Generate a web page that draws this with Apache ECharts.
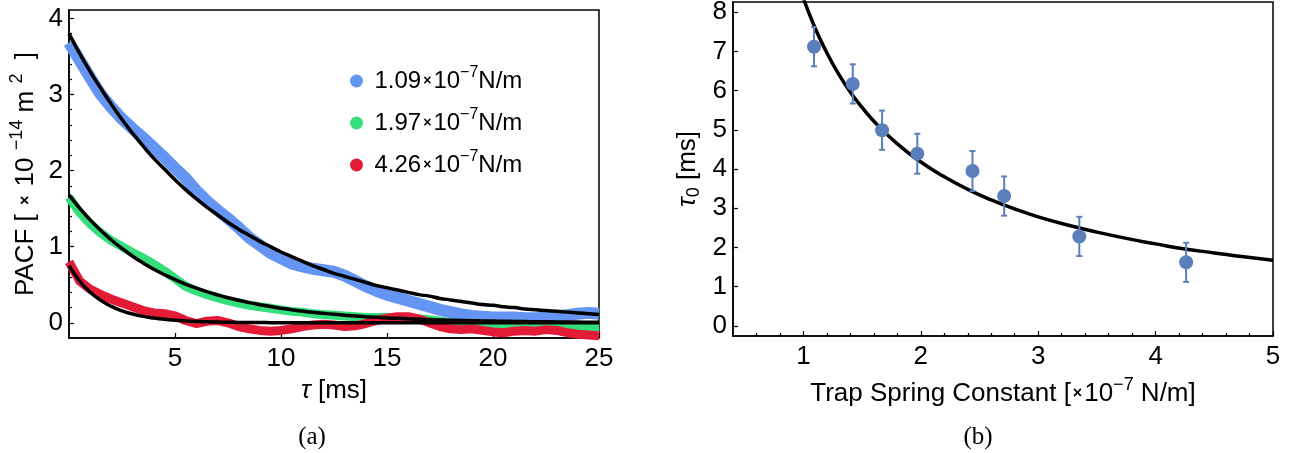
<!DOCTYPE html>
<html>
<head>
<meta charset="utf-8">
<script src="https://cdn.jsdelivr.net/npm/echarts@6/dist/echarts.min.js"></script>
<style>
  html, body { margin: 0; padding: 0; background: #fff; }
  #chart { width: 1293px; height: 453px; }
</style>
</head>
<body>
<div id="chart"></div>
<script>
// ---- (a) position autocorrelation vs lag time ----
const tau = [0,0.5,1,1.5,2,2.5,3,3.5,4,4.5,5,5.5,6,6.5,7,7.5,8,8.5,9,9.5,10,10.5,11,11.5,12,12.5,13,13.5,14,14.5,15,15.5,16,16.5,17,17.5,18,18.5,19,19.5,20,20.5,21,21.5,22,22.5,23,23.5,24,24.5,25];

const pacfBlue = [3.68,3.45,3.22,3.00,2.83,2.68,2.55,2.43,2.30,2.17,2.03,1.90,1.74,1.60,1.48,1.37,1.25,1.12,1.02,0.92,0.85,0.78,0.74,0.71,0.69,0.67,0.62,0.55,0.48,0.42,0.37,0.33,0.29,0.25,0.21,0.17,0.14,0.11,0.09,0.08,0.07,0.07,0.07,0.06,0.06,0.07,0.08,0.10,0.12,0.13,0.12];
const pacfGreen = [1.65,1.45,1.30,1.18,1.08,1.00,0.92,0.85,0.77,0.68,0.58,0.48,0.42,0.37,0.33,0.29,0.26,0.23,0.21,0.19,0.17,0.15,0.14,0.12,0.11,0.10,0.09,0.08,0.07,0.07,0.07,0.07,0.06,0.05,0.04,0.02,0.00,-0.02,-0.03,-0.04,-0.05,-0.05,-0.05,-0.06,-0.06,-0.05,-0.05,-0.06,-0.06,-0.06,-0.06];
const pacfRed = [0.80,0.55,0.44,0.37,0.31,0.26,0.21,0.16,0.13,0.12,0.09,0.03,-0.01,0.02,0.03,0.00,-0.05,-0.08,-0.10,-0.11,-0.10,-0.08,-0.05,-0.03,-0.02,-0.03,-0.05,-0.04,-0.01,0.03,0.06,0.08,0.08,0.05,0.00,-0.05,-0.08,-0.09,-0.08,-0.10,-0.12,-0.13,-0.11,-0.10,-0.11,-0.09,-0.10,-0.13,-0.15,-0.16,-0.17];

const fitBlue = [3.80,3.54,3.30,3.08,2.87,2.67,2.49,2.32,2.16,2.02,1.88,1.75,1.63,1.52,1.42,1.32,1.23,1.15,1.07,1.00,0.93,0.87,0.81,0.75,0.70,0.65,0.61,0.57,0.53,0.49,0.46,0.43,0.40,0.37,0.35,0.32,0.30,0.28,0.26,0.24,0.23,0.21,0.20,0.18,0.17,0.16,0.15,0.14,0.13,0.12,0.11];
const fitGreen = [1.680,1.507,1.352,1.213,1.088,0.976,0.875,0.785,0.704,0.632,0.567,0.508,0.456,0.409,0.367,0.329,0.295,0.265,0.238,0.213,0.191,0.171,0.154,0.138,0.124,0.111,0.100,0.089,0.080,0.072,0.064,0.058,0.052,0.047,0.042,0.037,0.034,0.030,0.027,0.024,0.022,0.020,0.018,0.016,0.014,0.013,0.011,0.010,0.009,0.008,0.007];
const fitRed = [0.750,0.549,0.401,0.294,0.215,0.157,0.115,0.084,0.062,0.045,0.033,0.024,0.018,0.013,0.010,0.007,0.005,0.004,0.003,0.002,0.001,0,0,0,0,0,0,0,0,0,0,0,0,0,0,0,0,0,0,0,0,0,0,0,0,0,0,0,0,0,0];

const trapLabels = ['1.09', '1.97', '4.26'];
const tauTicks = [5, 10, 15, 20, 25];
const pacfTicks = [0, 1, 2, 3, 4];
const pacfMinorTicks = [0.2,0.4,0.6,0.8,1.2,1.4,1.6,1.8,2.2,2.4,2.6,2.8,3.2,3.4,3.6,3.8,4.2];

// ---- (b) relaxation time vs trap stiffness ----
const springK = [1.09, 1.42, 1.67, 1.97, 2.44, 2.71, 3.35, 4.26];
const tau0 = [7.12, 6.17, 4.99, 4.39, 3.95, 3.31, 2.28, 1.62];
const tau0Err = [0.50, 0.50, 0.50, 0.51, 0.51, 0.50, 0.50, 0.50];

const fitK = [1.0,1.1,1.2,1.3,1.4,1.5,1.6,1.8,2.0,2.2,2.4,2.6,2.8,3.0,3.25,3.5,3.75,4.0,4.25,4.5,4.75,5.0];
const fitTau0 = [8.35,7.59,6.96,6.42,5.96,5.57,5.22,4.64,4.18,3.80,3.48,3.21,2.98,2.78,2.57,2.39,2.23,2.09,1.96,1.86,1.76,1.67];

const kTicks = [1, 2, 3, 4, 5];
const kMinorTicks = [0.6,0.8,1.2,1.4,1.6,1.8,2.2,2.4,2.6,2.8,3.2,3.4,3.6,3.8,4.2,4.4,4.6,4.8];
const tau0Ticks = [0, 1, 2, 3, 4, 5, 6, 7, 8];

const bandColors = ['#6495f2', '#34df7b', '#e31b37'];
const pointColor = '#5b7fba';
const FONT = '"Liberation Sans", Arial, sans-serif';

function richFor(size) {
  return {
    n: { fontSize: size, fontFamily: FONT, color: '#000' },
    x: { fontSize: Math.round(size * 0.6), fontFamily: FONT, color: '#000', fontWeight: 'bold', padding: [0, 2, 0, 2] },
    s: { fontSize: Math.round(size * 0.68), fontFamily: FONT, color: '#000', padding: [0, 0, Math.round(size * 0.68), 0] },
    d: { fontSize: Math.round(size * 0.68), fontFamily: FONT, color: '#000', padding: [Math.round(size * 0.5), 0, 0, 0] },
    i: { fontSize: size, fontFamily: FONT, color: '#000', fontStyle: 'italic' }
  };
}
const nameRich = richFor(26);
const legendRich = richFor(24);

const pairs = (xs, ys) => xs.map((x, i) => [x, ys[i]]);

const frameLine = { show: true, onZero: false, lineStyle: { color: '#000', width: 1.5 } };
const tickStyle = { color: '#000', width: 1.2 };
const labelBase = { color: '#000', fontSize: 26, fontFamily: FONT };

const chart = echarts.init(document.getElementById('chart'), null, { renderer: 'canvas' });

const bandSeries = [pacfBlue, pacfGreen, pacfRed].map((vals, i) => ({
  name: trapLabels[i],
  type: 'line',
  xAxisIndex: 0, yAxisIndex: 0,
  data: pairs(tau, vals),
  showSymbol: false,
  symbol: 'circle',
  color: bandColors[i],
  lineStyle: { color: bandColors[i], width: i === 0 ? 12 : 9, join: 'round', cap: 'butt' },
  silent: true,
  z: 2
}));

const fitSeries = [fitBlue, fitGreen, fitRed].map(vals => ({
  type: 'line',
  xAxisIndex: 0, yAxisIndex: 0,
  data: pairs(tau, vals),
  showSymbol: false,
  smooth: true,
  lineStyle: { color: '#000', width: 3.5 },
  silent: true,
  z: 3
}));

chart.setOption({
  animation: false,
  backgroundColor: '#fff',
  grid: [
    { left: 69, top: 10, width: 530, height: 328, show: true, borderColor: '#000', borderWidth: 1.5, containLabel: false, outerBoundsMode: 'none' },
    { left: 733, top: 2, width: 540, height: 334, show: true, borderColor: '#000', borderWidth: 1.5, containLabel: false, outerBoundsMode: 'none' }
  ],
  legend: {
    data: trapLabels,
    orient: 'vertical',
    left: 345,
    top: 60,
    icon: 'circle',
    itemWidth: 26,
    itemHeight: 13,
    itemGap: 13,
    selectedMode: false,
    textStyle: { rich: legendRich, lineHeight: 26 },
    formatter: name => `{n|${name}}{x|×}{n|10}{s|−7}{n|N/m}`
  },
  xAxis: [
    {
      gridIndex: 0, type: 'value', min: 0, max: 25,
      axisLine: frameLine,
      axisTick: { show: true, inside: true, length: 5, lineStyle: tickStyle, customValues: tauTicks },
      axisLabel: Object.assign({ customValues: tauTicks, margin: 8 }, labelBase),
      splitLine: { show: false },
      name: '{i|τ}{n| [ms]}',
      nameLocation: 'middle', nameGap: 40, nameMoveOverlap: false,
      nameTextStyle: { rich: nameRich }
    },
    {
      gridIndex: 1, type: 'value', min: 0.4, max: 5,
      axisLine: frameLine,
      axisTick: { show: true, inside: true, length: 5, lineStyle: tickStyle, customValues: kTicks },
      axisLabel: Object.assign({ customValues: kTicks, margin: 8 }, labelBase),
      splitLine: { show: false },
      name: '{n|Trap Spring Constant [}{x|×}{n|10}{s|−7}{n| N/m]}',
      nameLocation: 'middle', nameGap: 40, nameMoveOverlap: false,
      nameTextStyle: { rich: nameRich }
    },
    {
      gridIndex: 1, type: 'value', min: 0.4, max: 5, position: 'bottom',
      axisLine: { show: false, onZero: false },
      axisTick: { show: true, inside: true, length: 3, lineStyle: tickStyle, customValues: kMinorTicks },
      axisLabel: { show: false },
      splitLine: { show: false }
    }
  ],
  yAxis: [
    {
      gridIndex: 0, type: 'value', min: -0.2, max: 4.11, position: 'left',
      axisLine: frameLine,
      axisTick: { show: true, inside: true, length: 5, lineStyle: tickStyle, customValues: pacfTicks },
      axisLabel: Object.assign({ customValues: pacfTicks, margin: 6 }, labelBase),
      splitLine: { show: false },
      name: '{n|PACF [ }{x|×}{n| 10 }{s|−14}{n| m }{s|2}{n|  ]}',
      nameLocation: 'middle', nameGap: 25, nameMoveOverlap: false,
      nameTextStyle: { rich: nameRich }
    },
    {
      gridIndex: 0, type: 'value', min: -0.2, max: 4.11, position: 'left',
      axisLine: { show: false, onZero: false },
      axisTick: { show: true, inside: true, length: 3, lineStyle: tickStyle, customValues: pacfMinorTicks },
      axisLabel: { show: false },
      splitLine: { show: false }
    },
    {
      gridIndex: 1, type: 'value', min: -0.26, max: 8.26, position: 'left',
      axisLine: frameLine,
      axisTick: { show: true, inside: true, length: 5, lineStyle: tickStyle, customValues: tau0Ticks },
      axisLabel: Object.assign({ customValues: tau0Ticks, margin: 6 }, labelBase),
      splitLine: { show: false },
      name: '{i|τ}{d|0}{n| [ms]}',
      nameLocation: 'middle', nameGap: 30, nameMoveOverlap: false,
      nameTextStyle: { rich: nameRich }
    }
  ],
  graphic: [
    { type: 'text', x: 312, y: 437, silent: true,
      style: { text: '(a)', fill: '#000', font: '25px "Liberation Serif", "DejaVu Serif", serif', textAlign: 'center', textVerticalAlign: 'middle' } },
    { type: 'text', x: 978, y: 437, silent: true,
      style: { text: '(b)', fill: '#000', font: '25px "Liberation Serif", "DejaVu Serif", serif', textAlign: 'center', textVerticalAlign: 'middle' } }
  ],
  series: [
    ...bandSeries,
    ...fitSeries,
    {
      type: 'line',
      xAxisIndex: 1, yAxisIndex: 2,
      data: pairs(fitK, fitTau0),
      showSymbol: false,
      smooth: true,
      lineStyle: { color: '#000', width: 3.5 },
      silent: true,
      z: 3
    },
    {
      type: 'custom',
      xAxisIndex: 1, yAxisIndex: 2,
      data: springK.map((k, i) => [k, tau0[i], tau0Err[i]]),
      silent: true,
      z: 4,
      renderItem: (params, api) => {
        const k = api.value(0), t = api.value(1), e = api.value(2);
        const hi = api.coord([k, t + e]);
        const lo = api.coord([k, t - e]);
        const cap = 3;
        const st = { stroke: pointColor, lineWidth: 2 };
        return {
          type: 'group',
          children: [
            { type: 'line', shape: { x1: hi[0], y1: hi[1], x2: lo[0], y2: lo[1] }, style: st },
            { type: 'line', shape: { x1: hi[0] - cap, y1: hi[1], x2: hi[0] + cap, y2: hi[1] }, style: st },
            { type: 'line', shape: { x1: lo[0] - cap, y1: lo[1], x2: lo[0] + cap, y2: lo[1] }, style: st }
          ]
        };
      }
    },
    {
      type: 'scatter',
      xAxisIndex: 1, yAxisIndex: 2,
      data: pairs(springK, tau0),
      symbol: 'circle',
      symbolSize: 14,
      itemStyle: { color: pointColor, opacity: 1 },
      silent: true,
      z: 5
    }
  ]
});
</script>
</body>
</html>
